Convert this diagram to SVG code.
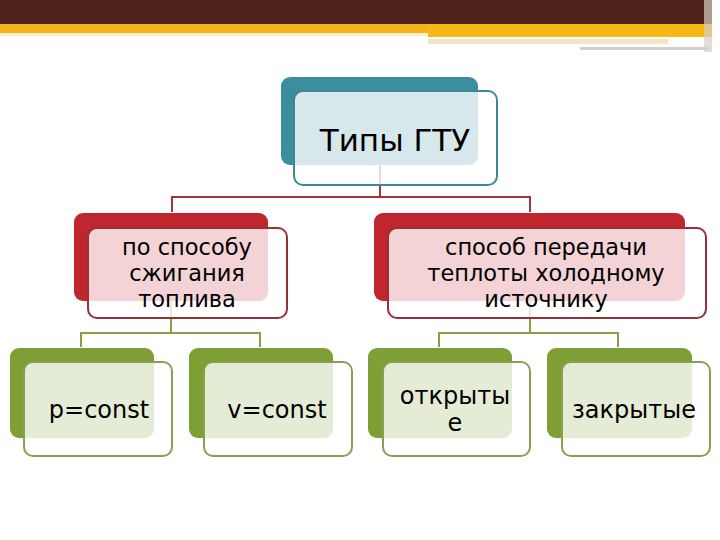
<svg xmlns="http://www.w3.org/2000/svg" width="720" height="540" viewBox="0 0 720 540">
<style>
text{font-family:"DejaVu Sans","Verdana",sans-serif;fill:#000;text-anchor:middle}
.t1{font-size:31px}
.t2{font-size:22.5px}
.t3{font-size:24px}
.front{fill:#fff;fill-opacity:0.8;stroke-width:2}
.teal{fill:#3A8E9E}
.red{fill:#C0262E}
.grn{fill:#7E9F35}
.fteal{stroke:#3C8895}
.fred{stroke:#9B2F36}
.fgrn{stroke:#8AA04E}
.cred{stroke:#A3333B;stroke-width:2;fill:none}
.cgrn{stroke:#87A046;stroke-width:2;fill:none}
</style>
<rect width="720" height="540" fill="#fff"/>
<g id="header">
<rect x="0" y="0" width="712" height="24" fill="#4F241D"/>
<rect x="0" y="24" width="428" height="9" fill="#F5B21A"/>
<rect x="428" y="24" width="284" height="13" fill="#F7B714"/>
<rect x="0" y="33" width="428" height="3" fill="#F3E2B8" opacity="0.6"/>
<rect x="428" y="39" width="240" height="5" fill="#EFE5C8"/>
<rect x="580" y="47" width="128" height="3" fill="#D4D0C8"/>
<rect x="704" y="0" width="8" height="52" fill="#D6CEC4" opacity="0.7"/>
<rect x="712" y="0" width="8" height="52" fill="#fff"/>
</g>
<g id="connectors">
<path class="cred" d="M380 165V197M172 212V197H530V212"/>
<path class="cgrn" d="M171 300V333M81 347V333H260V347"/>
<path class="cgrn" d="M530 300V333M439 347V333H618V347"/>
</g>
<g id="root">
<rect class="teal" x="281" y="77" width="197" height="88" rx="9"/>
<rect class="front fteal" x="294" y="91" width="203" height="94" rx="9"/>
<text class="t1" x="395" y="151">Типы ГТУ</text>
</g>
<g id="n-left">
<rect class="red" x="74" y="213" width="194" height="88" rx="9"/>
<rect class="front fred" x="88" y="228" width="199" height="90" rx="9"/>
<text class="t2" x="187" y="255">по способу</text>
<text class="t2" x="187" y="281">сжигания</text>
<text class="t2" x="187" y="307">топлива</text>
</g>
<g id="n-right">
<rect class="red" x="374" y="213" width="311" height="88" rx="9"/>
<rect class="front fred" x="388" y="228" width="318" height="90" rx="9"/>
<text class="t2" x="546" y="255">способ передачи</text>
<text class="t2" x="546" y="281">теплоты холодному</text>
<text class="t2" x="546" y="307">источнику</text>
</g>
<g id="n-p">
<rect class="grn" x="10" y="348" width="144" height="90" rx="9"/>
<rect class="front fgrn" x="24" y="362" width="148" height="94" rx="9"/>
<text class="t3" x="99" y="418">p=const</text>
</g>
<g id="n-v">
<rect class="grn" x="189" y="348" width="144" height="90" rx="9"/>
<rect class="front fgrn" x="204" y="362" width="148" height="94" rx="9"/>
<text class="t3" x="277" y="418">v=const</text>
</g>
<g id="n-open">
<rect class="grn" x="368" y="348" width="144" height="90" rx="9"/>
<rect class="front fgrn" x="383" y="362" width="147" height="94" rx="9"/>
<text class="t3" x="455" y="404">открыты</text>
<text class="t3" x="455" y="431">е</text>
</g>
<g id="n-closed">
<rect class="grn" x="547" y="348" width="145" height="90" rx="9"/>
<rect class="front fgrn" x="562" y="362" width="148" height="94" rx="9"/>
<text class="t3" x="634" y="418">закрытые</text>
</g>
</svg>
